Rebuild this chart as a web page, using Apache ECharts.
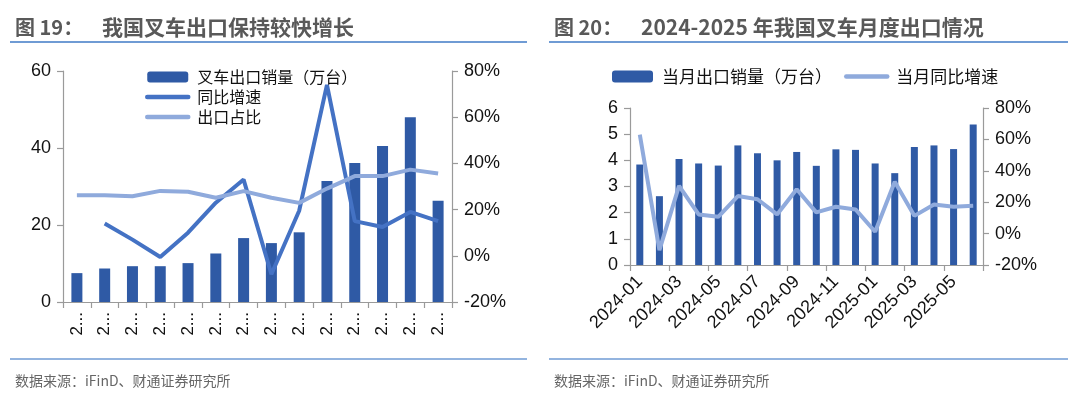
<!DOCTYPE html>
<html><head><meta charset="utf-8">
<script src="https://cdn.jsdelivr.net/npm/echarts@6/dist/echarts.min.js"></script>
<style>html,body{margin:0;padding:0;background:#fff}#c{width:1080px;height:395px}</style>
</head><body><div id="c"></div>
<script>
// Left chart: annual forklift exports
const yearCats = ['2012','2013','2014','2015','2016','2017','2018','2019','2020','2021','2022','2023','2024','2025H1'];
const annualExport = [7.5, 8.7, 9.3, 9.3, 10.1, 12.6, 16.6, 15.3, 18.1, 31.4, 36.1, 40.5, 48.0, 26.3];
const annualYoY = [null, 14, 7, -0.5, 10, 23, 33, -8, 19.5, 74, 15, 12.5, 19, 15];
const exportShare = [26.2, 26.2, 25.8, 28.1, 27.7, 25.1, 28.0, 25.1, 22.9, 29.1, 34.5, 34.5, 37.3, 35.6];

// Right chart: monthly exports 2024-01 .. 2025-06
const monthCats = ['2024-01','2024-02','2024-03','2024-04','2024-05','2024-06','2024-07','2024-08','2024-09','2024-10','2024-11','2024-12','2025-01','2025-02','2025-03','2025-04','2025-05','2025-06'];
const monthExport = [3.84, 2.63, 4.05, 3.88, 3.80, 4.57, 4.27, 4.00, 4.32, 3.79, 4.42, 4.40, 3.88, 3.51, 4.51, 4.57, 4.43, 5.37];
const monthYoY = [63, -10.5, 30.4, 12.2, 10.7, 23.9, 21.9, 12.2, 28.3, 13.5, 17.1, 15.4, 1.2, 33, 11.3, 18.5, 17.1, 17.7];

const leftTicks = {min: 0, max: 60, interval: 20};
const rightPct = {min: -20, max: 80, interval: 20};
const monthTicks = {min: 0, max: 6, interval: 1};

const C_BAR = '#2f5aa5', C_LINE = '#4472c4', C_LIGHT = '#8faadc';
const AX = '#9a9a9a';
const NUM_FONT = '"Liberation Sans", Arial, sans-serif';
const CJK = '"Noto Sans CJK SC", sans-serif';

function valAxis(grid, pos, r, fmt){
  return {
    type:'value', gridIndex:grid, position:pos, min:r.min, max:r.max, interval:r.interval,
    splitLine:{show:false},
    axisLine:{show:true, lineStyle:{color:AX, width:1.2}},
    axisTick:{show:true, inside:false, length:6, lineStyle:{color:AX, width:1.2}},
    axisLabel:{fontSize:18, color:'#111', fontFamily:NUM_FONT, margin:12, formatter:fmt||'{value}'}
  };
}
const noSym = {opacity:0};
const thick = {width:4.5, cap:'round'};

const chart = echarts.init(document.getElementById('c'), null, {renderer:'canvas'});
chart.setOption({
  animation:false,
  backgroundColor:'#fff',
  title:[
    {text:'图 19：', left:10, top:12, textStyle:{fontSize:20, fontWeight:'bold', color:'#595959', fontFamily:CJK}},
    {text:'我国叉车出口保持较快增长', left:97, top:12, textStyle:{fontSize:21, fontWeight:'bold', color:'#595959', fontFamily:CJK}},
    {text:'图 20：', left:549, top:12, textStyle:{fontSize:20, fontWeight:'bold', color:'#595959', fontFamily:CJK}},
    {text:'2024-2025 年我国叉车月度出口情况', left:636, top:12, textStyle:{fontSize:21, fontWeight:'bold', color:'#595959', fontFamily:CJK}},
    {text:'数据来源：iFinD、财通证券研究所', left:10, top:369, textStyle:{fontSize:14, fontWeight:'normal', color:'#666', fontFamily:CJK}},
    {text:'数据来源：iFinD、财通证券研究所', left:549, top:369, textStyle:{fontSize:14, fontWeight:'normal', color:'#666', fontFamily:CJK}}
  ],
  graphic:[
    {type:'line', shape:{x1:10,y1:42,x2:527,y2:42}, style:{stroke:'#6f9bd4', lineWidth:2}},
    {type:'line', shape:{x1:549,y1:42,x2:1068,y2:42}, style:{stroke:'#6f9bd4', lineWidth:2}},
    {type:'line', shape:{x1:10,y1:359,x2:527,y2:359}, style:{stroke:'#6f9bd4', lineWidth:1.5}},
    {type:'line', shape:{x1:549,y1:359,x2:1068,y2:359}, style:{stroke:'#6f9bd4', lineWidth:1.5}}
  ],
  legend:[
    {orient:'vertical', left:140, top:64, itemWidth:41, itemHeight:11, itemGap:4,
     data:['叉车出口销量（万台）',
           {name:'同比增速', itemStyle:noSym, lineStyle:thick},
           {name:'出口占比', itemStyle:noSym, lineStyle:thick}],
     textStyle:{fontSize:16, color:'#111', fontFamily:CJK, lineHeight:16, padding:[0,0,0,4]}},
    {orient:'horizontal', left:607, top:63, itemWidth:41, itemHeight:12, itemGap:12,
     data:['当月出口销量（万台）',{name:'当月同比增速', itemStyle:noSym, lineStyle:thick}],
     textStyle:{fontSize:17, color:'#111', fontFamily:CJK, padding:[0,0,0,4]}}
  ],
  grid:[
    {left:63, top:71, width:389, height:231},
    {left:630, top:108, width:353, height:157}
  ],
  xAxis:[
    {type:'category', gridIndex:0, data:yearCats, boundaryGap:true,
     axisLine:{lineStyle:{color:AX, width:1.2}},
     axisTick:{show:true, length:6, lineStyle:{color:AX, width:1.2}},
     axisLabel:{rotate:90, fontSize:17, color:'#111', fontFamily:NUM_FONT, margin:10, interval:0,
                width:28, overflow:'truncate', ellipsis:'...'}},
    {type:'category', gridIndex:1, data:monthCats, boundaryGap:true,
     axisLine:{lineStyle:{color:AX, width:1.2}},
     axisTick:{show:true, length:6, interval:1, lineStyle:{color:AX, width:1.2}},
     axisLabel:{rotate:45, fontSize:18, color:'#111', fontFamily:NUM_FONT, margin:14, interval:1}}
  ],
  yAxis:[
    valAxis(0,'left',leftTicks),
    valAxis(0,'right',rightPct,'{value}%'),
    valAxis(1,'left',monthTicks),
    valAxis(1,'right',rightPct,'{value}%')
  ],
  series:[
    {name:'叉车出口销量（万台）', type:'bar', xAxisIndex:0, yAxisIndex:0, data:annualExport,
     barWidth:11, itemStyle:{color:C_BAR}},
    {name:'同比增速', type:'line', xAxisIndex:0, yAxisIndex:1, data:annualYoY, symbol:'none',
     lineStyle:{color:C_LINE, width:4}, itemStyle:{color:C_LINE}},
    {name:'出口占比', type:'line', xAxisIndex:0, yAxisIndex:1, data:exportShare, symbol:'none',
     lineStyle:{color:C_LIGHT, width:4}, itemStyle:{color:C_LIGHT}},
    {name:'当月出口销量（万台）', type:'bar', xAxisIndex:1, yAxisIndex:2, data:monthExport,
     barWidth:7, itemStyle:{color:C_BAR}},
    {name:'当月同比增速', type:'line', xAxisIndex:1, yAxisIndex:3, data:monthYoY, symbol:'none',
     lineStyle:{color:C_LIGHT, width:4}, itemStyle:{color:C_LIGHT}}
  ]
});
</script></body></html>
